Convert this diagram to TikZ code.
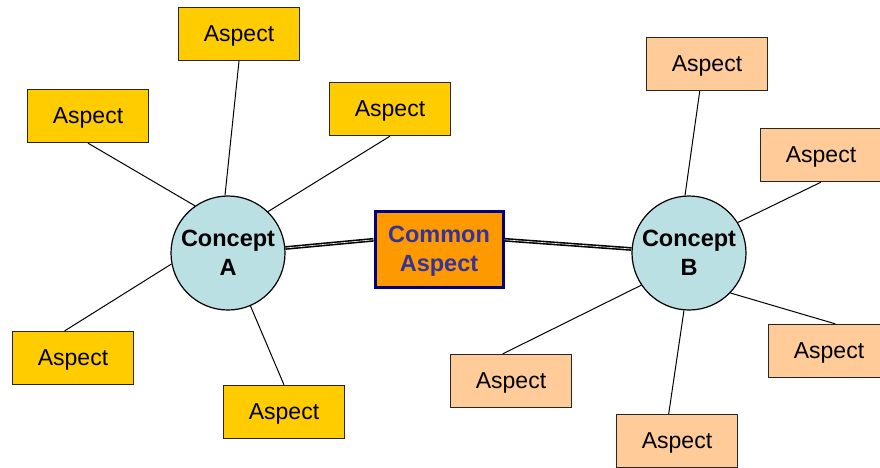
\documentclass[tikz,border=0pt]{standalone}
\usepackage{fontspec}
\setmainfont{Liberation Sans}
\definecolor{aspA}{HTML}{FFCC00}
\definecolor{aspB}{HTML}{FFCC99}
\definecolor{concept}{HTML}{BAE0E3}
\definecolor{common}{HTML}{FF9900}
\definecolor{commonborder}{HTML}{000080}
\definecolor{commontext}{HTML}{333399}
\tikzset{
  aspect/.style={draw=black!85, line width=1.3pt, minimum width=121pt, minimum height=53pt,
    inner sep=0pt, text depth=0pt, font=\fontsize{23}{27}\selectfont},
  aspectA/.style={aspect, fill=aspA},
  aspectB/.style={aspect, fill=aspB},
  conceptnode/.style={circle, draw=black, line width=1.2pt, fill=concept, minimum size=114pt,
    inner sep=0pt, align=center, text depth=0pt, font=\fontsize{23.5}{29}\selectfont\bfseries},
  commonnode/.style={draw=commonborder, line width=3pt, fill=common, minimum width=128pt,
    minimum height=76pt, inner sep=0pt, align=center, text=commontext, text depth=0pt,
    font=\fontsize{23.5}{29}\selectfont\bfseries},
  spoke/.style={line width=1pt, black},
  link/.style={double=white, draw=black, line width=1.6pt, double distance=0.6pt}
}
\begin{document}
\begin{tikzpicture}[x=1pt,y=-1pt]
  \useasboundingbox (0,0) rectangle (880,468);

  % concept A and its aspects
  \node[conceptnode] (cA) at (228,253) {Concept\\A};
  \node[aspectA] (aT)  at (239,34)  {Aspect};
  \node[aspectA] (aL)  at (88,116)  {Aspect};
  \node[aspectA] (aR)  at (390,109) {Aspect};
  \node[aspectA] (aBL) at (73,358)  {Aspect};
  \node[aspectA] (aB)  at (284,412) {Aspect};

  % concept B and its aspects
  \node[conceptnode] (cB) at (689,253) {Concept\\B};
  \node[aspectB] (bT)  at (707,64)  {Aspect};
  \node[aspectB] (bR)  at (821,155) {Aspect};
  \node[aspectB] (bRL) at (829,351) {Aspect};
  \node[aspectB] (bBL) at (511,381) {Aspect};
  \node[aspectB] (bB)  at (677,441) {Aspect};

  % the shared aspect
  \node[commonnode] (cm) at (439,249) {Common\\Aspect};

  % spokes of concept A
  \draw[spoke] (cA.93)  -- (aT.south);
  \draw[spoke] (cA.125) -- (aL.south);
  \draw[spoke] (cA.46)  -- (aR.south);
  \draw[spoke] (cA.191) -- (aBL.107);
  \draw[spoke] (cA.293) -- (aB.north);

  % spokes of concept B
  \draw[spoke] (cB.94)  -- (bT.255);
  \draw[spoke] (cB.32)  -- (bR.south);
  \draw[spoke] (cB.316) -- (bRL.77);
  \draw[spoke] (cB.214) -- (bBL.107);
  \draw[spoke] (cB.265) -- (bB.107);

  % double links through the common aspect
  \draw[link] (cA.5) -- (cm.172);
  \draw[link] (cm.8) -- (cB.176);
\end{tikzpicture}
\end{document}
